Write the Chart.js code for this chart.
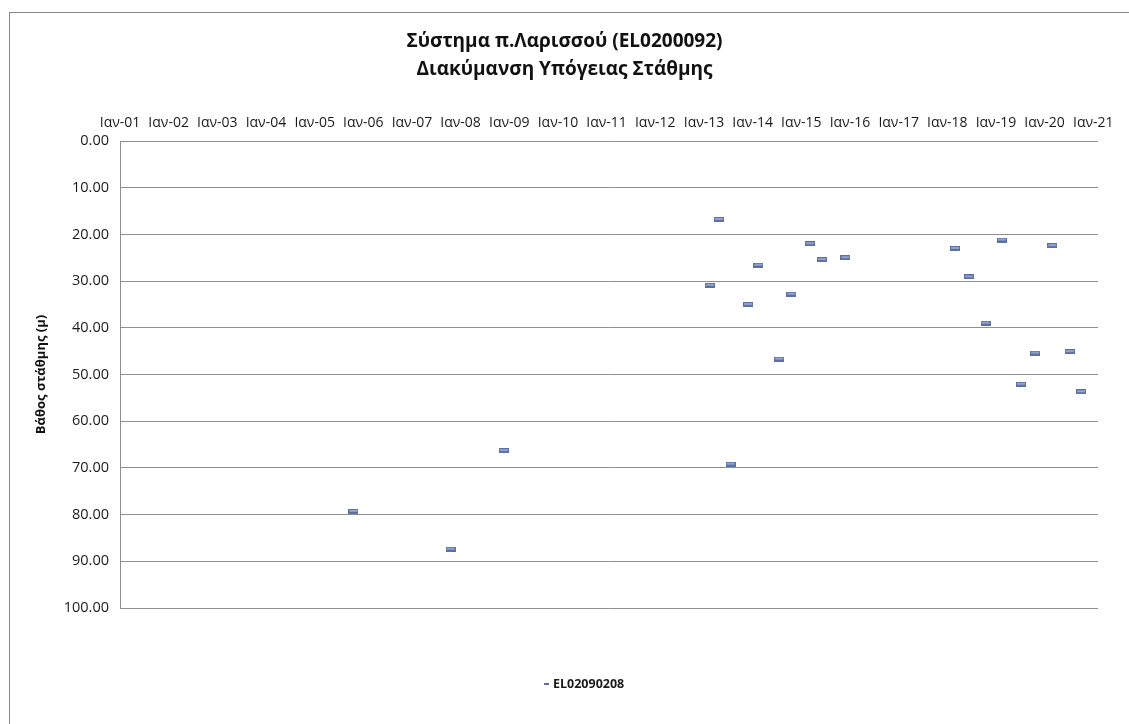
<!DOCTYPE html>
<html lang="el">
<head>
<meta charset="utf-8">
<title>Σύστημα π.Λαρισσού (EL0200092)</title>
<script src="https://cdn.jsdelivr.net/npm/chart.js@4.4.1/dist/chart.umd.min.js"></script>
<style>
  html, body { margin: 0; padding: 0; background: #ffffff; }
  #wrap { position: relative; width: 1129px; height: 724px; }
  canvas { display: block; }
</style>
</head>
<body>
<div id="wrap"><canvas id="chart" width="1129" height="724"></canvas></div>
<script>
// Measurement dates of the well and the groundwater depth (m below surface)
const sampleDates = [
  '2005-10-19', '2007-10-19', '2008-11-21',
  '2013-02-14', '2013-04-23', '2013-07-19', '2013-11-28',
  '2014-02-14', '2014-07-19', '2014-10-19',
  '2015-03-06', '2015-06-06', '2015-11-28',
  '2018-02-28', '2018-06-13', '2018-10-15',
  '2019-02-14', '2019-07-08', '2019-10-22',
  '2020-02-28', '2020-07-08', '2020-10-01'
];
const depthValues = [
  79.3, 87.4, 66.3,
  30.9, 16.8, 69.2, 35.0,
  26.6, 46.7, 32.8,
  22.0, 25.4, 25.0,
  23.0, 29.1, 39.0,
  21.2, 52.1, 45.4,
  22.4, 45.1, 53.7
];
const seriesName = 'EL02090208';

// Yearly ticks along the top axis
const tickYears = [2001, 2002, 2003, 2004, 2005, 2006, 2007, 2008, 2009, 2010, 2011,
                   2012, 2013, 2014, 2015, 2016, 2017, 2018, 2019, 2020, 2021];
const xTickLabels = ['Ιαν-01', 'Ιαν-02', 'Ιαν-03', 'Ιαν-04', 'Ιαν-05', 'Ιαν-06', 'Ιαν-07',
                     'Ιαν-08', 'Ιαν-09', 'Ιαν-10', 'Ιαν-11', 'Ιαν-12', 'Ιαν-13', 'Ιαν-14',
                     'Ιαν-15', 'Ιαν-16', 'Ιαν-17', 'Ιαν-18', 'Ιαν-19', 'Ιαν-20', 'Ιαν-21'];

const FONT = "'Open Sans', 'Noto Sans', 'DejaVu Sans', sans-serif";
const GRID = '#8f8f8f';

function toTime(s) {
  const [y, m, d] = s.split('-').map(Number);
  return Date.UTC(y, m - 1, d);
}

// Small dash marker used for every measurement
function makeMarker(w, h) {
  const c = document.createElement('canvas');
  c.width = w; c.height = h;
  const g = c.getContext('2d');
  g.fillStyle = '#5a70a6';
  g.fillRect(0, 0, w, h);
  if (h > 3) {
    g.fillStyle = '#c9d3ea';
    g.fillRect(1, Math.floor(h / 2) - 0.5, w - 2, 1);
  }
  return c;
}
const pointMarker = makeMarker(10, 5);
const legendMarker = makeMarker(5, 2);

const points = sampleDates.map((d, i) => ({ x: toTime(d), y: depthValues[i] }));

// Outer frame of the chart
const framePlugin = {
  id: 'frame',
  beforeDraw(chart) {
    const ctx = chart.ctx;
    ctx.save();
    ctx.strokeStyle = '#8a8a8a';
    ctx.lineWidth = 1;
    ctx.strokeRect(9.5, 12.5, 1300, 900);
    ctx.restore();
  }
};

// Single-entry legend below the plot
const legendPlugin = {
  id: 'seriesLegend',
  afterDraw(chart) {
    const ds = chart.data.datasets[0];
    const ctx = chart.ctx;
    ctx.save();
    ctx.font = "bold 12.5px " + FONT;
    ctx.fillStyle = '#1a1a1a';
    ctx.textBaseline = 'middle';
    ctx.textAlign = 'left';
    const y = 684;
    const tx = 553;
    ctx.drawImage(legendMarker, tx - 9, y - 1);
    ctx.fillText(ds.label, tx, y);
    ctx.restore();
  }
};

new Chart(document.getElementById('chart'), {
  type: 'scatter',
  data: {
    datasets: [{
      label: seriesName,
      data: points,
      pointStyle: pointMarker,
      pointRadius: 5,
      pointHoverRadius: 5,
      showLine: false
    }]
  },
  options: {
    responsive: false,
    animation: false,
    events: [],
    layout: { padding: { left: 0, right: 0, top: 0, bottom: 116 } },
    plugins: {
      legend: { display: false },
      tooltip: { enabled: false },
      title: {
        display: true,
        text: ['Σύστημα π.Λαρισσού (EL0200092)', 'Διακύμανση Υπόγειας Στάθμης'],
        color: '#111',
        font: { family: FONT, size: 19, weight: 'bold', lineHeight: '28px' },
        padding: { top: 28, bottom: 27 }
      }
    },
    scales: {
      x: {
        type: 'linear',
        position: 'top',
        min: Date.UTC(2001, 0, 1),
        max: Date.UTC(2021, 1, 5),
        afterBuildTicks(scale) {
          scale.ticks = tickYears.map(y => ({ value: Date.UTC(y, 0, 1) }));
        },
        afterFit(scale) { scale.height = 30; },
        grid: { display: false, drawTicks: false },
        border: { display: false },
        ticks: {
          autoSkip: false,
          maxRotation: 0,
          minRotation: 0,
          padding: 10,
          color: '#1a1a1a',
          font: { family: FONT, size: 14 },
          callback(value, index) { return xTickLabels[index]; }
        }
      },
      y: {
        reverse: true,
        min: 0,
        max: 100,
        afterFit(scale) { scale.width = 120; },
        grid: { color: GRID, lineWidth: 1, drawTicks: false },
        border: { display: true, color: GRID, width: 1 },
        ticks: {
          stepSize: 10,
          padding: 11,
          color: '#1a1a1a',
          font: { family: FONT, size: 14.5 },
          callback(value) { return Number(value).toFixed(2); }
        },
        title: {
          display: true,
          text: 'Βάθος στάθμης (μ)',
          color: '#111',
          font: { family: FONT, size: 13, weight: 'bold', lineHeight: 1.2 },
          padding: { top: 33, bottom: 0 }
        }
      },
      yRight: {
        position: 'right',
        min: 0,
        max: 100,
        afterFit(scale) { scale.width = 31; },
        grid: { display: false, drawTicks: false },
        border: { display: false },
        ticks: { display: false }
      }
    }
  },
  plugins: [framePlugin, legendPlugin]
});
</script>
</body>
</html>
